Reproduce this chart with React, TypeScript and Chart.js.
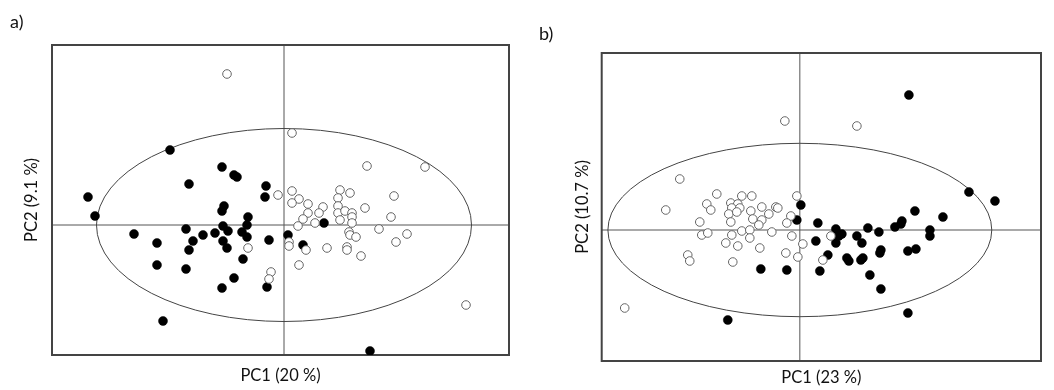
import React, { useEffect, useRef } from "react";
import { Chart, registerables } from "chart.js";

Chart.register(...registerables);

// ---------- Panel a) data (PCA scores) ----------
const aTitleX = "PC1 (20 %)";
const aTitleY = "PC2 (9.1 %)";
const aFilled: [number, number][] = [
  [-11.4, 7.5], [-6.2, 5.8], [-5.0, 5.0], [-4.7, 4.8], [-9.5, 4.1], [-1.8, 3.9],
  [-1.9, 2.8], [-19.6, 2.8], [-18.9, 0.9], [-6.0, 1.9], [-6.2, 1.4], [-3.6, 0.8],
  [-15.0, -0.9], [-9.8, -0.4], [-6.1, -0.1], [-5.6, -0.6], [-3.7, 0.0], [-4.2, -0.7],
  [-6.9, -0.8], [-8.1, -1.0], [-9.1, -1.6], [-12.7, -1.8], [-6.1, -1.6], [-3.7, -1.2],
  [-1.5, -1.5], [-9.5, -2.5], [-5.7, -2.3], [-4.1, -3.4], [-12.7, -4.0], [-9.8, -4.4],
  [-5.0, -5.3], [-6.2, -6.3], [-1.7, -6.2], [-12.1, -9.6], [4.0, 0.2], [0.4, -1.0],
  [1.9, -2.0], [8.6, -12.6],
];
const aOpen: [number, number][] = [
  [-5.7, 15.1], [0.8, 9.2], [8.3, 5.9], [14.1, 5.8], [-0.6, 3.0], [0.8, 3.4],
  [1.5, 2.6], [5.6, 3.5], [6.6, 3.2], [5.4, 2.7], [11.0, 2.9], [-3.6, -2.3],
  [-1.3, -4.7], [-1.5, -5.4], [0.8, 2.2], [2.4, 2.1], [3.9, 1.8], [5.4, 1.9],
  [8.1, 1.7], [3.5, 1.2], [2.4, 1.2], [3.1, 0.2], [1.9, 0.6], [1.4, -0.1],
  [5.4, 1.2], [6.1, 1.4], [6.8, 1.2], [6.8, 0.8], [5.6, 0.5], [6.8, 0.2],
  [10.7, 0.8], [9.5, -0.4], [12.3, -0.9], [11.2, -1.7], [6.5, -0.7], [6.6, -1.0],
  [7.2, -1.2], [6.3, -2.2], [6.3, -2.5], [7.7, -3.1], [4.3, -2.3], [0.5, -1.7],
  [0.5, -2.1], [2.2, -2.5], [1.5, -4.0], [18.2, -8.0],
];
const aRange = { xMin: -23.2, xMax: 22.5, yMin: -13.0, yMax: 18.0 };
const aEllipse = { rx: 18.75, ry: 9.65 };

// ---------- Panel b) data (PCA scores) ----------
const bTitleX = "PC1 (23 %)";
const bTitleY = "PC2 (10.7 %)";
const bFilled: [number, number][] = [
  [0.1, 2.5], [10.9, 13.5], [16.9, 3.8], [19.5, 2.9], [11.5, 1.9], [14.3, 1.3],
  [10.2, 0.9], [10.1, 0.6], [9.5, 0.3], [1.8, 0.7], [-0.3, 1.0], [3.6, 0.1],
  [6.8, 0.2], [7.9, -0.2], [13.0, 0.0], [13.0, -0.6], [4.2, -0.4], [3.9, -0.6],
  [5.7, -0.6], [1.6, -1.1], [3.6, -1.3], [6.2, -1.3], [8.1, -2.0], [8.0, -2.3],
  [10.8, -2.1], [11.6, -1.9], [2.8, -2.5], [4.7, -2.8], [4.9, -3.1], [6.1, -3.0],
  [6.3, -2.8], [-3.9, -3.9], [-1.3, -4.0], [2.0, -4.1], [7.0, -4.5], [8.1, -5.9],
  [10.8, -8.3], [-7.2, -9.0],
];
const bOpen: [number, number][] = [
  [-1.5, 10.9], [5.7, 10.4], [-12.0, 5.1], [-8.3, 3.6], [-5.8, 3.4], [-4.8, 3.4],
  [-0.3, 3.4], [-9.3, 2.6], [-6.9, 2.7], [-6.2, 2.6], [-13.4, 2.0], [-3.8, 2.3],
  [-2.4, 2.3], [-2.2, 2.2], [-8.9, 2.0], [-4.9, 1.9], [-6.8, 2.2], [-6.0, 2.2],
  [-7.1, 1.6], [-6.3, 1.8], [-3.1, 1.6], [-0.9, 1.4], [-10.0, 0.8], [-6.9, 0.8],
  [-4.7, 1.1], [-3.8, 1.0], [-4.1, 0.5], [-1.3, 0.7], [-9.8, -0.5], [-9.2, -0.3],
  [-5.8, -0.1], [-5.0, 0.0], [-6.8, -0.5], [-5.0, -0.8], [-2.8, -0.2], [-0.8, -0.6],
  [-7.4, -1.3], [-6.2, -1.6], [-4.0, -1.8], [0.3, -1.4], [-1.4, -2.3], [-0.2, -2.7],
  [-11.2, -2.5], [-11.0, -3.1], [-6.7, -3.2], [-17.5, -7.8], [3.1, -0.6], [2.3, -3.0],
];
const bRange = { xMin: -19.8, xMax: 24.1, yMin: -13.1, yMax: 17.7 };
const bEllipse = { rx: 19.18, ry: 8.67 };

const FONT = "Lato, 'Open Sans', sans-serif";
const TITLE_SIZE = 16.5;

const decorPlugin = {
  id: "decor",
  beforeDatasetsDraw(chart: any, _args: any, opts: any) {
    const { ctx, chartArea: ca, scales } = chart;
    const x = scales.x;
    const y = scales.y;
    const x0 = x.getPixelForValue(0);
    const y0 = y.getPixelForValue(0);
    ctx.save();
    ctx.strokeStyle = "#555";
    ctx.lineWidth = 1;
    ctx.beginPath();
    ctx.moveTo(x0, ca.top);
    ctx.lineTo(x0, ca.bottom);
    ctx.moveTo(ca.left, y0);
    ctx.lineTo(ca.right, y0);
    ctx.stroke();
    const rx = Math.abs(x.getPixelForValue(opts.rx) - x0);
    const ry = Math.abs(y.getPixelForValue(opts.ry) - y0);
    ctx.strokeStyle = "#444";
    ctx.beginPath();
    ctx.ellipse(x0, y0, rx, ry, 0, 0, Math.PI * 2);
    ctx.stroke();
    ctx.lineWidth = 2;
    ctx.strokeStyle = "#444";
    ctx.strokeRect(ca.left, ca.top, ca.width, ca.height);
    ctx.restore();
  },
};

type PanelProps = {
  left: number;
  width: number;
  height: number;
  filled: [number, number][];
  open: [number, number][];
  range: { xMin: number; xMax: number; yMin: number; yMax: number };
  ellipse: { rx: number; ry: number };
  titleX: string;
  titleY: string;
  pad: { left: number; right: number; top: number; bottom: number };
  xTitlePadTop: number;
  yTitlePadBottom: number;
};

function Panel(p: PanelProps) {
  const ref = useRef<HTMLCanvasElement | null>(null);
  useEffect(() => {
    if (!ref.current) return;
    const chart = new Chart(ref.current, {
      type: "scatter",
      data: {
        datasets: [
          {
            label: "open",
            data: p.open.map(([x, y]) => ({ x, y })),
            pointRadius: 4.3,
            pointBackgroundColor: "#ffffff",
            pointBorderColor: "#666",
            pointBorderWidth: 1,
          },
          {
            label: "filled",
            data: p.filled.map(([x, y]) => ({ x, y })),
            pointRadius: 4.5,
            pointBackgroundColor: "#000000",
            pointBorderColor: "#000000",
            pointBorderWidth: 0.5,
          },
        ],
      },
      options: {
        animation: false,
        responsive: false,
        devicePixelRatio: 1,
        layout: { padding: p.pad },
        plugins: {
          legend: { display: false },
          tooltip: { enabled: false },
          decor: p.ellipse,
        } as any,
        scales: {
          x: {
            type: "linear",
            min: p.range.xMin,
            max: p.range.xMax,
            grid: { display: false, drawTicks: false },
            border: { display: false },
            ticks: { display: false },
            title: {
              display: true,
              text: p.titleX,
              color: "#111",
              font: { family: FONT, size: TITLE_SIZE },
              padding: { top: p.xTitlePadTop, bottom: 0 },
            },
          },
          y: {
            type: "linear",
            min: p.range.yMin,
            max: p.range.yMax,
            grid: { display: false, drawTicks: false },
            border: { display: false },
            ticks: { display: false },
            title: {
              display: true,
              text: p.titleY,
              color: "#111",
              font: { family: FONT, size: TITLE_SIZE },
              padding: { top: 0, bottom: p.yTitlePadBottom },
            },
          },
        },
      },
      plugins: [decorPlugin],
    });
    return () => chart.destroy();
  }, []);
  return (
    <canvas
      ref={ref}
      width={p.width}
      height={p.height}
      style={{ position: "absolute", left: p.left, top: 0, width: p.width, height: p.height }}
    />
  );
}

const labelStyle: React.CSSProperties = {
  position: "absolute",
  fontFamily: FONT,
  fontSize: 18,
  lineHeight: "20px",
  color: "#111",
};

export default function App() {
  return (
    <div style={{ position: "absolute", left: 0, top: 0, width: 1054, height: 390, background: "#fff", overflow: "hidden" }}>
      <Panel
        left={0}
        width={527}
        height={390}
        filled={aFilled}
        open={aOpen}
        range={aRange}
        ellipse={aEllipse}
        titleX={aTitleX}
        titleY={aTitleY}
        pad={{ left: 22.1, right: 18, top: 45, bottom: 4.1 }}
        xTitlePadTop={11.1}
        yTitlePadBottom={10.1}
      />
      <Panel
        left={527}
        width={527}
        height={390}
        filled={bFilled}
        open={bOpen}
        range={bRange}
        ellipse={bEllipse}
        titleX={bTitleX}
        titleY={bTitleY}
        pad={{ left: 46.1, right: 13, top: 53, bottom: 2.1 }}
        xTitlePadTop={7.1}
        yTitlePadBottom={8.8}
      />
      <div style={{ ...labelStyle, left: 10, top: 11 }}>a)</div>
      <div style={{ ...labelStyle, left: 539, top: 23 }}>b)</div>
    </div>
  );
}
